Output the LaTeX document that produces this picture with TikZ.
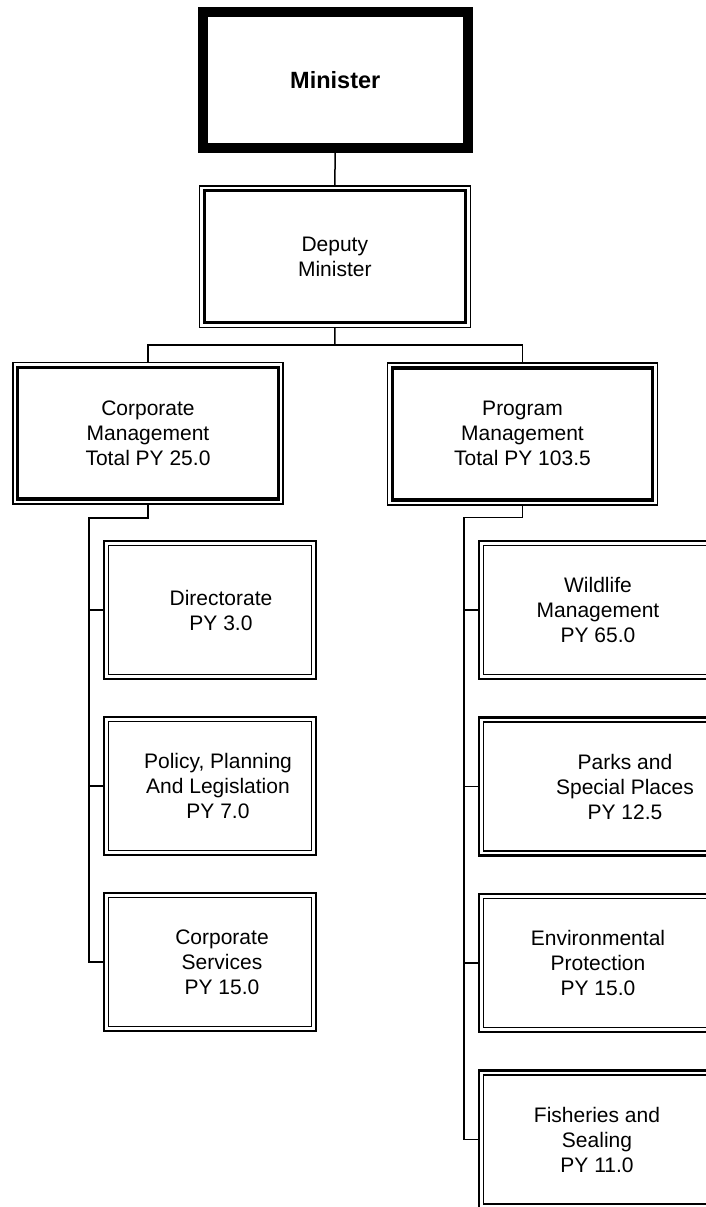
\documentclass[tikz,border=0pt]{standalone}
\usepackage{fontspec}
\setmainfont{Liberation Sans}
\begin{document}
\begin{tikzpicture}[x=1pt,y=-1pt,
  txt/.style={font=\fontsize{21}{25}\selectfont, align=center, inner sep=0pt},
  boss/.style={draw, line width=10pt, outer sep=0pt, inner sep=0pt,
    minimum width=265.5pt, minimum height=136pt,
    font=\fontsize{23.5}{28}\selectfont\bfseries},
  mgr/.style={draw, line width=1.6pt, outer sep=0pt, txt,
    minimum width=270.5pt, minimum height=141.5pt,
    path picture={\draw[line width=3.4pt]
      ([xshift=5pt,yshift=-5pt]path picture bounding box.north west) rectangle
      ([xshift=-5pt,yshift=5pt]path picture bounding box.south east);}},
  unit/.style={draw, line width=2.2pt, outer sep=0pt, inner sep=0pt,
    minimum height=138pt,
    path picture={\draw[line width=1.3pt]
      ([xshift=4.5pt,yshift=-4.5pt]path picture bounding box.north west) rectangle
      ([xshift=-4.5pt,yshift=4.5pt]path picture bounding box.south east);}},
  lunit/.style={unit, minimum width=212pt},
  runit/.style={unit, minimum width=240pt},
  wire/.style={line width=1.5pt}
]
\useasboundingbox (0,0) rectangle (706,1207);
\clip (0,0) rectangle (706,1207);

% top of the hierarchy
\node[boss] (min) at (335.25,80) {Minister};
\node[mgr, minimum width=271pt, minimum height=141.6pt] (dep) at (334.8,256.5) {Deputy\\Minister};

% branch heads
\node[mgr] (corp) at (148,433.3) {Corporate\\Management\\Total PY 25.0};
\node[mgr, minimum width=270pt, minimum height=142pt] (prog) at (522.5,433.8) {Program\\Management\\Total PY 103.5};

% corporate units
\node[lunit, label={[txt, xshift=11pt]center:{Directorate\\PY 3.0}}] (dir) at (210,610) {};
\node[lunit, label={[txt, xshift=8pt]center:{Policy, Planning\\And Legislation\\PY 7.0}}] (pol) at (210,786) {};
\node[lunit, label={[txt, xshift=12pt]center:{Corporate\\Services\\PY 15.0}}] (cs) at (210,962) {};

% program units
\node[runit, label={[txt, xshift=-1pt]center:{Wildlife\\Management\\PY 65.0}}] (wild) at (599,610) {};
\node[runit, label={[txt, xshift=26pt]center:{Parks and\\Special Places\\PY 12.5}}] (park) at (599,786.5) {};
\node[runit, label={[txt, xshift=-1pt]center:{Environmental\\Protection\\PY 15.0}}] (env) at (599,963) {};
\node[runit, label={[txt, xshift=-2pt]center:{Fisheries and\\Sealing\\PY 11.0}}] (fis) at (599,1139.5) {};

% connectors
\coordinate (bus) at (335,345);
\coordinate (cb) at (89,518);
\coordinate (pb) at (464,517.5);
\draw[wire] (min.south) -- (dep.north);
\draw[wire] (dep.south) -- (bus);
\draw[wire] (corp.north) |- (bus) -| (prog.north);

\draw[wire] (corp.south) |- (cb) |- (cs.west);
\draw[wire] (dir.west) -- (dir.west -| cb);
\draw[wire] (pol.west) -- (pol.west -| cb);

\draw[wire] (prog.south) |- (pb) |- (fis.west);
\draw[wire] (wild.west) -- (wild.west -| pb);
\draw[wire] (park.west) -- (park.west -| pb);
\draw[wire] (env.west) -- (env.west -| pb);
\end{tikzpicture}
\end{document}
